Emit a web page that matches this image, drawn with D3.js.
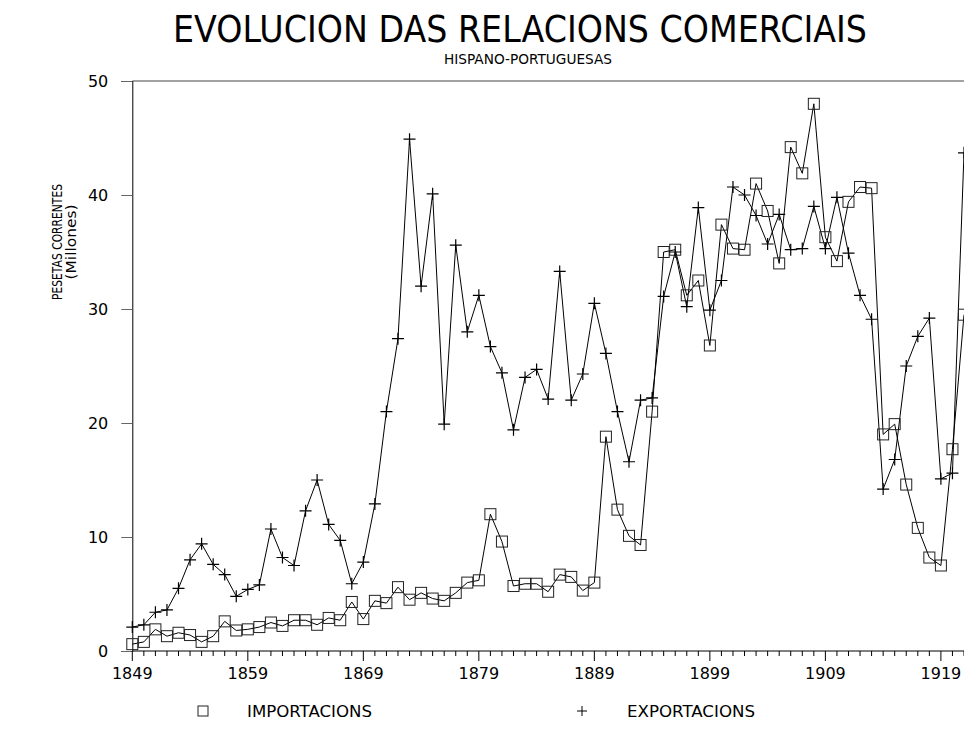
<!DOCTYPE html>
<html>
<head>
<meta charset="utf-8">
<script src="https://cdn.jsdelivr.net/npm/d3@7"></script>
<style>
  html, body { margin: 0; padding: 0; background: #fff; }
  svg { display: block; }
  text { font-family: "DejaVu Sans", sans-serif; fill: #000; }
</style>
</head>
<body>
<script>
const years = d3.range(1849, 1922);
const importaciones = [
  0.6, 0.8, 1.9, 1.3, 1.6, 1.4, 0.8, 1.3, 2.6, 1.8,
  1.9, 2.1, 2.5, 2.2, 2.7, 2.7, 2.3, 2.9, 2.7, 4.3,
  2.8, 4.4, 4.2, 5.6, 4.5, 5.1, 4.6, 4.4, 5.1, 6.0,
  6.2, 12.0, 9.6, 5.7, 5.9, 5.9, 5.2, 6.7, 6.5, 5.3,
  6.0, 18.8, 12.4, 10.1, 9.3, 21.0, 35.0, 35.2, 31.2, 32.5,
  26.8, 37.4, 35.3, 35.2, 41.0, 38.6, 34.0, 44.2, 41.9, 48.0,
  36.3, 34.2, 39.4, 40.7, 40.6, 19.0, 19.9, 14.6, 10.8, 8.2,
  7.5, 17.7, 29.5
];
const exportaciones = [
  2.1, 2.3, 3.4, 3.6, 5.5, 8.0, 9.4, 7.6, 6.7, 4.8,
  5.4, 5.8, 10.7, 8.2, 7.5, 12.3, 15.0, 11.1, 9.7, 5.9,
  7.8, 12.9, 21.0, 27.4, 44.9, 32.0, 40.1, 19.9, 35.6, 28.0,
  31.2, 26.7, 24.4, 19.4, 24.0, 24.7, 22.1, 33.3, 22.0, 24.3,
  30.5, 26.1, 21.0, 16.6, 22.0, 22.2, 31.1, 35.0, 30.2, 38.9,
  29.9, 32.5, 40.7, 40.0, 38.2, 35.7, 38.3, 35.2, 35.3, 39.0,
  35.3, 39.8, 34.9, 31.2, 29.1, 14.2, 16.8, 25.0, 27.6, 29.2,
  15.1, 15.6, 43.7
];
const yTicks = [0, 10, 20, 30, 40, 50];
const xTickLabels = [1849, 1859, 1869, 1879, 1889, 1899, 1909, 1919];
const titleText = "EVOLUCION DAS RELACIONS COMERCIAIS";
const subtitleText = "HISPANO-PORTUGUESAS";
const yTitle1 = "PESETAS CORRENTES";
const yTitle2 = "(Millones)";
const seriesNames = ["IMPORTACIONS", "EXPORTACIONS"];

const W = 964, H = 746;
const svg = d3.select("body").append("svg").attr("width", W).attr("height", H);

const x = d3.scaleLinear().domain([1849, 1919]).range([132.3, 940.9]);
const y = d3.scaleLinear().domain([0, 50]).range([651, 81]);
const x0 = x(1849), xR = W + 5;

// Titles
svg.append("text").attr("x", 520).attr("y", 42).attr("text-anchor", "middle")
  .style("font-size", "37px").attr("textLength", 694).attr("lengthAdjust", "spacingAndGlyphs")
  .text(titleText);
svg.append("text").attr("x", 528).attr("y", 64).attr("text-anchor", "middle")
  .style("font-size", "14px").attr("textLength", 168).attr("lengthAdjust", "spacingAndGlyphs")
  .text(subtitleText);

// Y title
svg.append("text").attr("transform", "translate(62,242) rotate(-90)").attr("text-anchor", "middle")
  .style("font-size", "14px").attr("textLength", 116).attr("lengthAdjust", "spacingAndGlyphs")
  .text(yTitle1);
svg.append("text").attr("transform", "translate(76,242) rotate(-90)").attr("text-anchor", "middle")
  .style("font-size", "14px").attr("textLength", 75).attr("lengthAdjust", "spacingAndGlyphs")
  .text(yTitle2);

// Frame line (top)
svg.append("line").attr("x1", x0).attr("x2", xR).attr("y1", y(50)).attr("y2", y(50))
  .attr("stroke", "#444").attr("stroke-width", 1);

// Y axis
const yAxis = d3.axisLeft(y).tickValues(yTicks).tickSize(11).tickPadding(13).tickFormat(d3.format("d"));
const gy = svg.append("g").attr("transform", `translate(${x0},0)`).call(yAxis);
gy.select(".domain").attr("stroke", "#000");
gy.selectAll(".tick line").attr("stroke", "#666");
gy.selectAll(".tick text").style("font-size", "16px").style("font-family", "DejaVu Sans, sans-serif");

// X axis
const gx = svg.append("g").attr("transform", `translate(0,${y(0)})`);
gx.append("line").attr("x1", x0).attr("x2", xR).attr("y1", 0).attr("y2", 0).attr("stroke", "#000");
const allTicks = d3.range(1849, 1922);
gx.selectAll("line.tk").data(allTicks).join("line").attr("class", "tk")
  .attr("x1", d => x(d)).attr("x2", d => x(d)).attr("y1", 0)
  .attr("y2", d => ((d - 1849) % 10 === 0 ? 10 : 5)).attr("stroke", "#000");
gx.selectAll("text.lb").data(xTickLabels).join("text").attr("class", "lb")
  .attr("x", d => x(d)).attr("y", 28).attr("text-anchor", "middle")
  .style("font-size", "16px").text(d => d);

// Lines
const line = d3.line().x((d, i) => x(years[i])).y(d => y(d));
svg.append("path").datum(importaciones).attr("d", line).attr("fill", "none").attr("stroke", "#000").attr("stroke-width", 1);
svg.append("path").datum(exportaciones).attr("d", line).attr("fill", "none").attr("stroke", "#000").attr("stroke-width", 1);

// Markers
const sq = 11;
svg.append("g").selectAll("rect").data(importaciones).join("rect")
  .attr("x", (d, i) => x(years[i]) - sq / 2).attr("y", d => y(d) - sq / 2)
  .attr("width", sq).attr("height", sq).attr("fill", "none").attr("stroke", "#222").attr("stroke-width", 1);
const pl = 6;
const gp = svg.append("g");
exportaciones.forEach((d, i) => {
  const cx = x(years[i]), cy = y(d);
  gp.append("path").attr("d", `M${cx - pl},${cy}H${cx + pl}M${cx},${cy - pl}V${cy + pl}`)
    .attr("stroke", "#000").attr("stroke-width", 1.2);
});

// Legend
const lg = svg.append("g");
lg.append("rect").attr("x", 198).attr("y", 706).attr("width", 10).attr("height", 10)
  .attr("fill", "none").attr("stroke", "#222");
lg.append("text").attr("x", 247).attr("y", 717).style("font-size", "15px")
  .attr("textLength", 125).attr("lengthAdjust", "spacingAndGlyphs").text(seriesNames[0]);
lg.append("path").attr("d", "M577,711H587M582,706V716").attr("stroke", "#000");
lg.append("text").attr("x", 627).attr("y", 717).style("font-size", "15px")
  .attr("textLength", 128).attr("lengthAdjust", "spacingAndGlyphs").text(seriesNames[1]);
</script>
</body>
</html>
